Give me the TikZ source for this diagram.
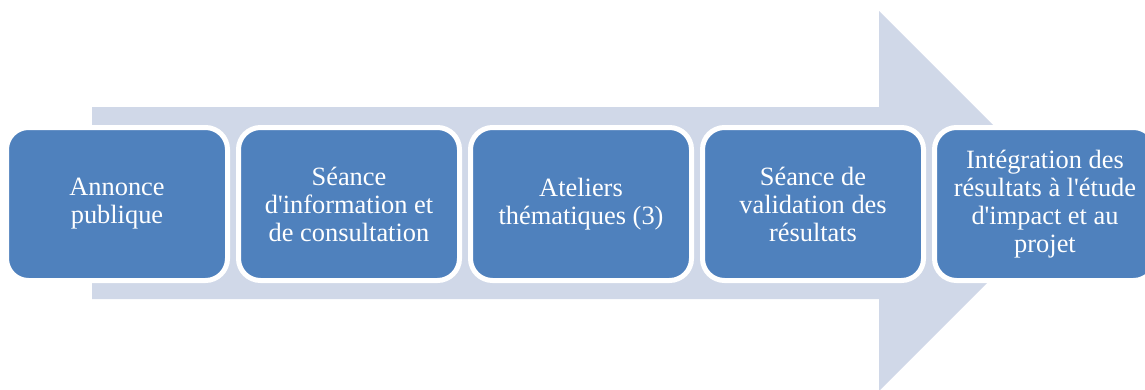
\documentclass[tikz,border=0pt]{standalone}
\usepackage{fontspec}
\setmainfont{Liberation Serif}
\definecolor{boxblue}{HTML}{4F81BD}
\definecolor{arrowgrey}{HTML}{D0D8E8}
\begin{document}
\begin{tikzpicture}[x=1pt,y=-1pt,
  stepbox/.style={draw=white, line width=5pt, fill=boxblue, rounded corners=22pt,
    minimum width=221pt, minimum height=153pt, inner sep=0pt, outer sep=0pt,
    text=white, align=center, font=\fontsize{26.4}{28}\selectfont}]
\useasboundingbox (0,0) rectangle (1145,389);
\clip (0,0) rectangle (1145,389);
\fill[arrowgrey] (92,107) -- (879,107) -- (879,11) -- (1069,201) -- (879,391) -- (879,299) -- (92,299) -- cycle;
\node[stepbox] (s1) at (117,204) {Annonce\\publique};
\node[stepbox] (s2) at (349,204) {Séance\\d\textquotesingle information et\\de consultation};
\node[stepbox] (s3) at (581,204) {Ateliers\\thématiques (3)};
\node[stepbox] (s4) at (813,204) {Séance de\\validation des\\résultats};
\node[stepbox] (s5) at (1045,204) {Intégration des\\résultats à l\textquotesingle étude\\d\textquotesingle impact et au\\projet};
\end{tikzpicture}
\end{document}
